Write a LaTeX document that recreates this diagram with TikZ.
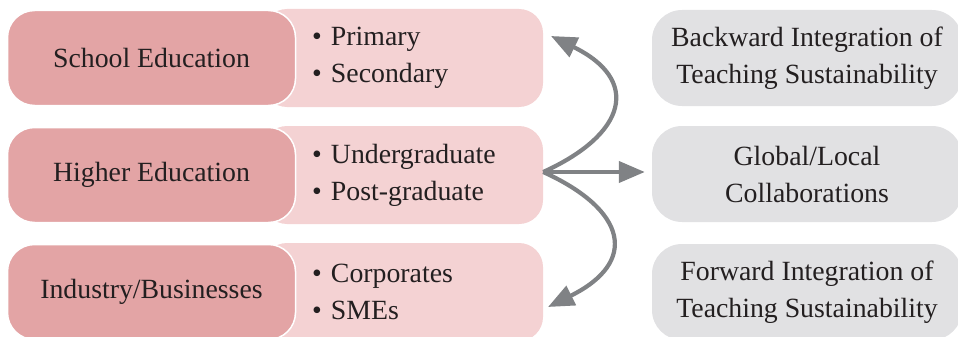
\documentclass[tikz,border=0pt]{standalone}
\usepackage{fontspec}
\setmainfont{Liberation Serif}
\usetikzlibrary{arrows.meta}
\definecolor{rosedark}{HTML}{E3A4A5}
\definecolor{roselight}{HTML}{F4D2D3}
\definecolor{greybox}{HTML}{E1E1E3}
\definecolor{arrowgrey}{HTML}{808285}
\definecolor{ink}{HTML}{231F20}
\tikzset{
  sector/.style={fill=rosedark,draw=white,line width=1.5pt,rounded corners=27pt,
    minimum width=288pt,minimum height=95pt,text=ink},
  levels/.style={fill=roselight,rounded corners=24pt,minimum width=280pt,
    minimum height=98pt,text width=182pt,align=left,inner xsep=0pt,text=ink},
  outcome/.style={fill=greybox,rounded corners=30pt,minimum width=310pt,
    minimum height=96pt,align=center,text=ink},
  flow/.style={arrowgrey,line width=4.2pt,-{Triangle[length=26pt,width=21pt]}}
}
\begin{document}
\begin{tikzpicture}[x=1pt,y=-1pt,font=\fontsize{27.8}{37}\selectfont]
  \useasboundingbox (0,0) rectangle (958,337);

  % pale boxes first, the darker ones lie over them
  \node[levels] (schoollist) at (403,58) {\textbullet~Primary\\ \textbullet~Secondary};
  \node[levels] (higherlist) at (403,175) {\mbox{\textbullet~Undergraduate}\\ \textbullet~Post-graduate};
  \node[levels] (industrylist) at (403,292) {\textbullet~Corporates\\ \textbullet~SMEs};

  \node[sector] (school) at (151.5,58) {School Education};
  \node[sector] (higher) at (151.5,175) {Higher Education};
  \node[sector] (industry) at (151.5,292) {Industry/Businesses};

  \node[outcome] (backward) at (807,58) {Backward Integration of\\ Teaching Sustainability};
  \node[outcome] (global) at (807,174) {Global/Local\\ Collaborations};
  \node[outcome] (forward) at (807,292) {Forward Integration of\\ Teaching Sustainability};

  \coordinate (hub) at (higherlist.east |- 0,172);
  \coordinate (uptip) at (551,36);
  \coordinate (downtip) at (548,307);

  \draw[flow] (hub) .. controls (627,134) and (641,80) .. (uptip);
  \draw[flow] (hub) .. controls (627,210) and (639,262) .. (downtip);
  \draw[flow,shorten >=7pt] (hub) -- (hub -| global.west);
\end{tikzpicture}
\end{document}
